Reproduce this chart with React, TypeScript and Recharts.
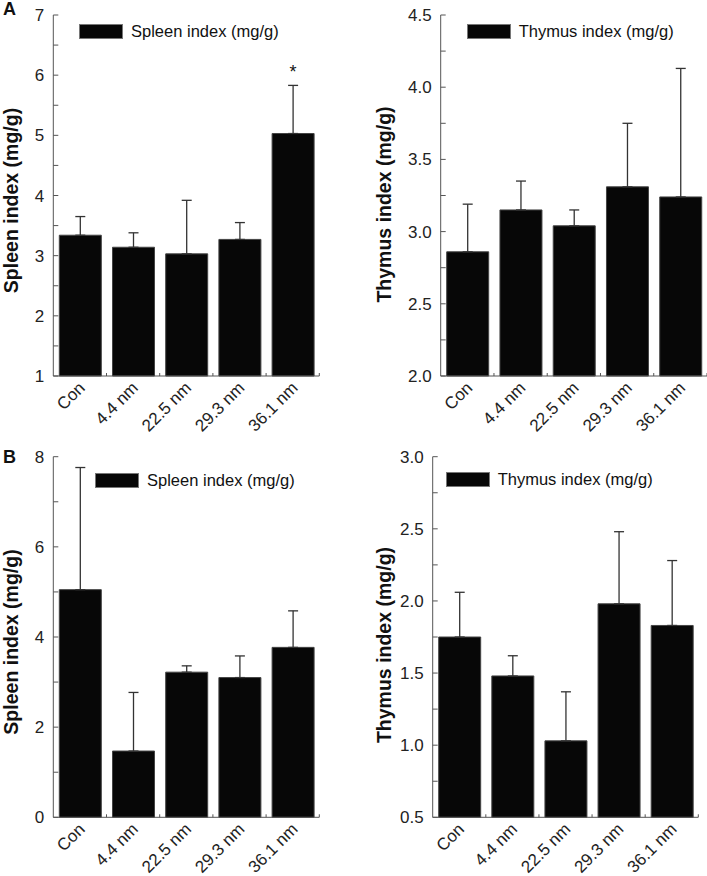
import React from "react";
import { BarChart, Bar, XAxis, YAxis, ErrorBar, LabelList } from "recharts";

const groups = ["Con", "4.4 nm", "22.5 nm", "29.3 nm", "36.1 nm"];

// panel A (upper row)
const spleenA = [3.34, 3.14, 3.03, 3.27, 5.03];
const spleenASd = [0.31, 0.24, 0.89, 0.28, 0.8];
const spleenASig = ["", "", "", "", "*"];
const thymusA = [2.86, 3.15, 3.04, 3.31, 3.24];
const thymusASd = [0.33, 0.2, 0.11, 0.44, 0.89];

// panel B (lower row)
const spleenB = [5.05, 1.47, 3.22, 3.1, 3.77];
const spleenBSd = [2.71, 1.3, 0.14, 0.48, 0.81];
const thymusB = [1.75, 1.48, 1.03, 1.98, 1.83];
const thymusBSd = [0.31, 0.14, 0.34, 0.5, 0.45];

// axis ticks (all tick marks) and the ones that carry a label
const spleenATicks = [1, 1.5, 2, 2.5, 3, 3.5, 4, 4.5, 5, 5.5, 6, 6.5, 7];
const spleenALabels = [1, 2, 3, 4, 5, 6, 7];
const thymusATicks = [2, 2.25, 2.5, 2.75, 3, 3.25, 3.5, 3.75, 4, 4.25, 4.5];
const thymusALabels = [2, 2.5, 3, 3.5, 4, 4.5];
const spleenBTicks = [0, 1, 2, 3, 4, 5, 6, 7, 8];
const spleenBLabels = [0, 2, 4, 6, 8];
const thymusBTicks = [0.5, 0.75, 1, 1.25, 1.5, 1.75, 2, 2.25, 2.5, 2.75, 3];
const thymusBLabels = [0.5, 1, 1.5, 2, 2.5, 3];

const FONT = '"Liberation Sans", Arial, Helvetica, sans-serif';
const AXIS = "#555";
const XH = 60;
const TICK_FS = 17;

type Box = { x: number; y: number; w: number; h: number };

type PanelProps = {
  left: number;
  top: number;
  width: number;
  height: number;
  plot: Box;
  values: number[];
  sd: number[];
  sig?: string[];
  domain: [number, number];
  ticks: number[];
  labels: number[];
  digits: number;
  title: string;
  titleX: number;
  titleDy: number;
  legendName: string;
  legendX: number;
  legendY: number;
};

function Panel(p: PanelProps) {
  const data = groups.map((g, i) => ({
    name: g,
    value: p.values[i],
    err: [0, p.sd[i]],
    sd: p.sd[i],
    sig: p.sig ? p.sig[i] : "",
  }));
  const band = p.plot.w / groups.length;
  const fmt = (v: number) =>
    p.labels.some((l) => Math.abs(l - v) < 1e-9) ? v.toFixed(p.digits) : "";

  const XTick = (t: any) => {
    const { x, y, payload } = t;
    return (
      <g>
        <line x1={x + band / 2} x2={x + band / 2} y1={y} y2={y - 3} stroke={AXIS} />
        <text
          transform={`translate(${x + 6},${y + 13}) rotate(-45)`}
          textAnchor="end"
          fontSize={TICK_FS}
          fontFamily={FONT}
          fill="#222"
        >
          {payload.value}
        </text>
      </g>
    );
  };

  const Star = (l: any) => {
    const { x, y, width, height, value, index } = l;
    if (!value) return null;
    const d = data[index];
    const perUnit = Number(height) / (d.value - p.domain[0]);
    const top = Number(y) - d.sd * perUnit;
    return (
      <text x={Number(x) + Number(width) / 2} y={top - 7} textAnchor="middle" fontSize={18} fontFamily={FONT} fill="#111">
        {value}
      </text>
    );
  };

  const cy = p.plot.y + p.plot.h / 2 + p.titleDy;

  return (
    <div style={{ position: "absolute", left: p.left, top: p.top, width: p.width, height: p.height }}>
      <BarChart
        width={p.width}
        height={p.height}
        data={data}
        margin={{
          top: p.plot.y,
          left: 0,
          right: p.width - p.plot.x - p.plot.w,
          bottom: p.height - p.plot.y - p.plot.h - XH,
        }}
      >
        <XAxis
          dataKey="name"
          height={XH}
          stroke={AXIS}
          tickLine={false}
          tickSize={0}
          tickMargin={0}
          interval={0}
          tick={XTick}
        />
        <YAxis
          width={p.plot.x}
          domain={p.domain}
          ticks={p.ticks}
          interval={0}
          stroke={AXIS}
          tickSize={-5}
          tickMargin={14}
          tickFormatter={fmt}
          tick={{ fontSize: TICK_FS, fontFamily: FONT, fill: "#222" }}
        />
        <Bar dataKey="value" fill="#070707" stroke="#444" strokeWidth={1} barSize={42} isAnimationActive={false}>
          <ErrorBar dataKey="err" direction="y" width={5} stroke="#333" strokeWidth={1.3} isAnimationActive={false} />
          {p.sig ? <LabelList dataKey="sig" content={Star} /> : null}
        </Bar>
      </BarChart>
      <svg
        width={p.width}
        height={p.height}
        style={{ position: "absolute", left: 0, top: 0, pointerEvents: "none" }}
      >
        <text
          transform={`translate(${p.titleX},${cy}) rotate(-90)`}
          textAnchor="middle"
          fontSize={19.5}
          fontWeight="bold"
          fontFamily={FONT}
          fill="#111"
        >
          {p.title}
        </text>
      </svg>
      <div
        style={{
          position: "absolute",
          left: p.legendX,
          top: p.legendY,
          display: "flex",
          alignItems: "center",
          fontFamily: FONT,
          fontSize: 16.5,
          color: "#111",
          whiteSpace: "nowrap",
        }}
      >
        <div
          style={{
            width: 44,
            height: 15,
            background: "#070707",
            border: "1px solid #777",
            boxSizing: "border-box",
          }}
        />
        <span style={{ marginLeft: 8, lineHeight: "15px" }}>{p.legendName}</span>
      </div>
    </div>
  );
}

export default function App() {
  return (
    <div
      style={{
        position: "absolute",
        left: 0,
        top: 0,
        width: 707,
        height: 876,
        background: "#fff",
        fontFamily: FONT,
      }}
    >
      <Panel
        left={0}
        top={0}
        width={350}
        height={450}
        plot={{ x: 53.3, y: 15, w: 266, h: 361 }}
        values={spleenA}
        sd={spleenASd}
        sig={spleenASig}
        domain={[1, 7]}
        ticks={spleenATicks}
        labels={spleenALabels}
        digits={0}
        title="Spleen index (mg/g)"
        titleX={18}
        titleDy={5}
        legendName="Spleen index (mg/g)"
        legendX={79}
        legendY={24}
      />
      <Panel
        left={350}
        top={0}
        width={357}
        height={450}
        plot={{ x: 90.7, y: 15, w: 266.3, h: 361 }}
        values={thymusA}
        sd={thymusASd}
        domain={[2, 4.5]}
        ticks={thymusATicks}
        labels={thymusALabels}
        digits={1}
        title="Thymus index (mg/g)"
        titleX={41}
        titleDy={9}
        legendName="Thymus index (mg/g)"
        legendX={116.7}
        legendY={24}
      />
      <Panel
        left={0}
        top={430}
        width={350}
        height={446}
        plot={{ x: 53.3, y: 26.7, w: 266, h: 360.6 }}
        values={spleenB}
        sd={spleenBSd}
        domain={[0, 8]}
        ticks={spleenBTicks}
        labels={spleenBLabels}
        digits={0}
        title="Spleen index (mg/g)"
        titleX={18}
        titleDy={5}
        legendName="Spleen index (mg/g)"
        legendX={95}
        legendY={43}
      />
      <Panel
        left={350}
        top={430}
        width={357}
        height={446}
        plot={{ x: 82.7, y: 26.7, w: 265.6, h: 360.6 }}
        values={thymusB}
        sd={thymusBSd}
        domain={[0.5, 3]}
        ticks={thymusBTicks}
        labels={thymusBLabels}
        digits={1}
        title="Thymus index (mg/g)"
        titleX={41}
        titleDy={8}
        legendName="Thymus index (mg/g)"
        legendX={95.7}
        legendY={42}
      />
      <svg width={707} height={876} style={{ position: "absolute", left: 0, top: 0, pointerEvents: "none" }}>
        <text x={3} y={15} fontSize={18} fontWeight="bold" fontFamily={FONT} fill="#111">
          A
        </text>
        <text x={3} y={463} fontSize={18} fontWeight="bold" fontFamily={FONT} fill="#111">
          B
        </text>
      </svg>
    </div>
  );
}
